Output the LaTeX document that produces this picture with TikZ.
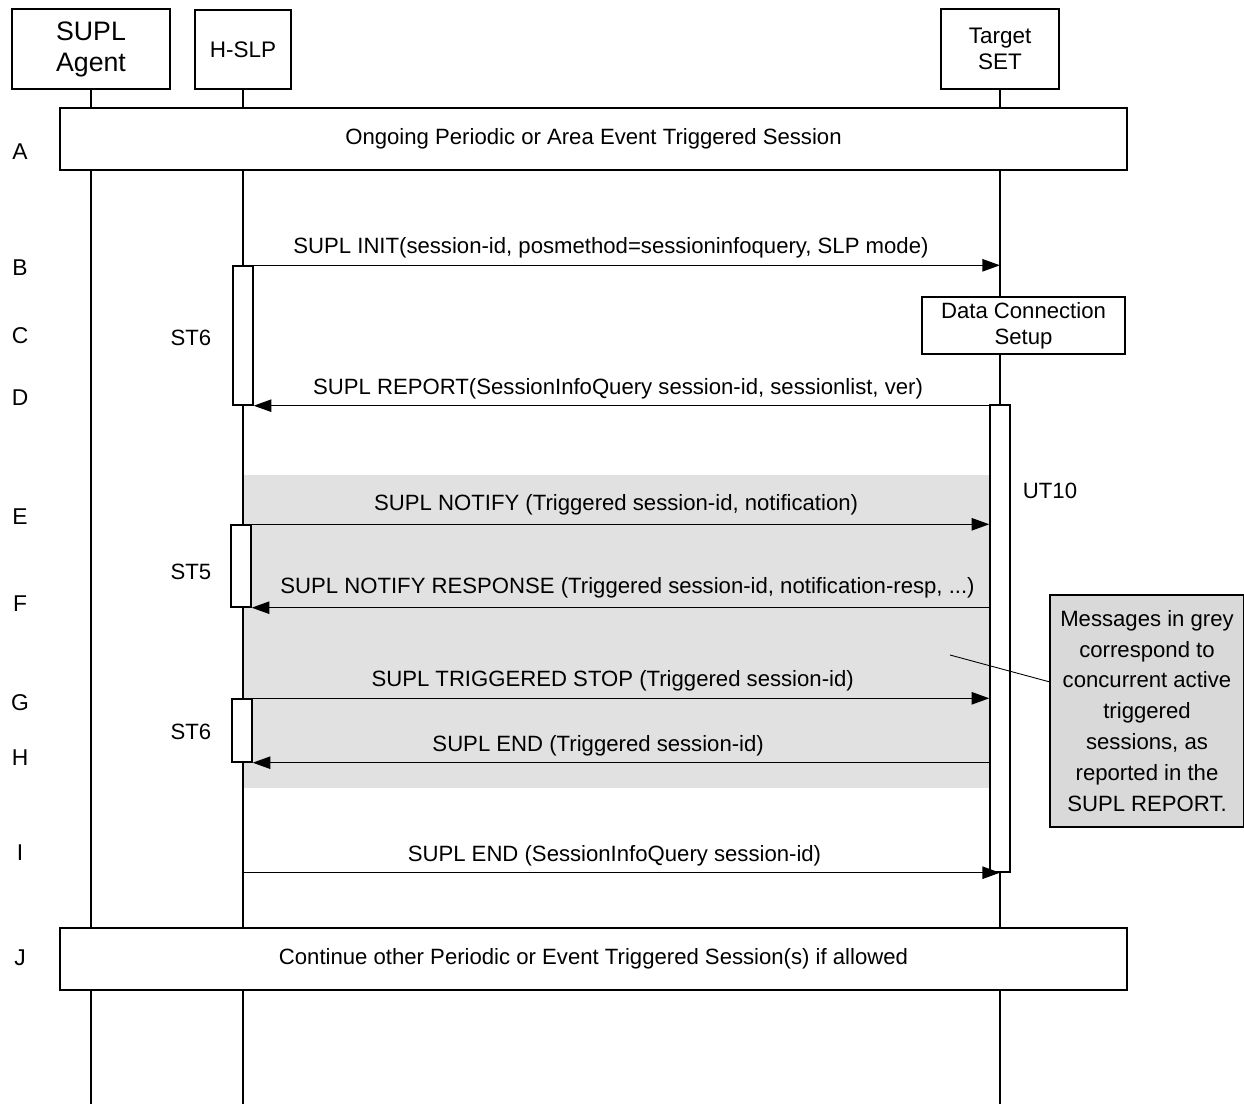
\documentclass[tikz,border=0pt]{standalone}
\usepackage{fontspec}
\setmainfont{Liberation Sans}
\usetikzlibrary{arrows.meta, calc, fit}

\definecolor{bandgrey}{HTML}{E1E1E1}
\definecolor{notegrey}{HTML}{D9D9D9}

\tikzset{
  head/.style={draw, fill=white, inner sep=0pt},
  box/.style={draw, fill=white, inner sep=0pt},
  inside/.style={inner sep=0pt, align=center, font=\fontsize{12.6}{14.7}\selectfont},
  act/.style={draw, fill=white, inner sep=0pt},
  msg/.style={->},
  lbl/.style={anchor=base, inner sep=0pt, yshift=6.5pt, font=\fontsize{12.6}{14.7}\selectfont},
  side/.style={inner sep=0pt, font=\fontsize{12.6}{14.7}\selectfont},
  rowlab/.style={inner sep=0pt, font=\fontsize{13}{15}\selectfont},
}

\begin{document}
\begin{tikzpicture}[x=0.02cm, y=-0.02cm, line width=0.8pt, >={Triangle[length=10pt, width=7pt]}]
        % page frame of the reference
        \useasboundingbox (0,0) rectangle (1244,1104);
        \coordinate (bottom) at (0,1104);

        % grey band for the concurrent triggered sessions
        \fill[bandgrey] (242,475) rectangle (990,788);

        % entities
        \node[head, fit={(12,9) (170,89)},
            label={[inside, font=\fontsize{15.2}{17.6}\selectfont]center:SUPL\\Agent}] (agent) {};
        \node[head, fit={(195,10) (291,89)},
            label={[inside, font=\fontsize{12.8}{14.4}\selectfont]center:H-SLP}] (hslp) {};
        \node[head, fit={(941,9) (1059,89)},
            label={[inside, font=\fontsize{12.8}{14.4}\selectfont]center:Target\\SET}] (set) {};

        % lifelines
        \draw (agent.south) -- (agent.south |- bottom);
        \draw (hslp.south) -- (hslp.south |- bottom);
        \draw (set.south) -- (set.south |- bottom);

        % step letters
        \foreach \r/\y in {A/152, B/268, C/336, D/398, E/517, F/604, G/703, H/758, I/853, J/958}
            \node[rowlab] (row\r) at (20,\y) {\r};

        % ongoing and continued sessions
        \node[box, fit={(60,108) (1127,170)},
            label={[inside]center:Ongoing Periodic or Area Event Triggered Session}] (ongoing) {};
        \node[box, fit={(60,928) (1127,990)},
            label={[inside]center:Continue other Periodic or Event Triggered Session(s) if allowed}] (continue) {};

        % timers
        \node[act, fit={(233,266) (253,405)}] (st6a) {};
        \node[act, fit={(231,525) (251,607)}] (st5) {};
        \node[act, fit={(232,699) (252,762)}] (st6b) {};
        \node[act, fit={(990,405) (1010,872)}] (ut10) {};
        \node[side] (st6alab) at (191,338) {ST6};
        \node[side] (st5lab) at (191,572) {ST5};
        \node[side] (st6blab) at (191,732) {ST6};
        \node[side] (ut10lab) at (1050,491) {UT10};

        % data connection on the SET side
        \node[box, fit={(922,297) (1125,354)},
            label={[inside]center:Data Connection\\Setup}] (dcs) {};

        % session info query
        \draw[msg] (hslp.south |- st6a.north) -- (set.south |- st6a.north)
            node[lbl, midway, xshift=-6pt] {SUPL INIT(session-id, posmethod=sessioninfoquery, SLP mode)};
        \draw[msg] (set.south |- st6a.south) -- (st6a.south east)
            node[lbl, midway, xshift=-5pt] {SUPL REPORT(SessionInfoQuery session-id, sessionlist, ver)};

        % messages of the concurrent sessions
        \draw[msg] (hslp.south |- st5.north) -- (ut10.west |- st5.north)
            node[lbl, midway, yshift=1.5pt] {SUPL NOTIFY (Triggered session-id, notification)};
        \draw[msg] (ut10.west |- st5.south) -- (st5.south east)
            node[lbl, midway, xshift=4pt, yshift=1.5pt] {SUPL NOTIFY RESPONSE (Triggered session-id, notification-resp, ...)};
        \draw[msg] (hslp.south |- st6b.north) -- (ut10.west |- st6b.north)
            node[lbl, midway, xshift=-2pt] {SUPL TRIGGERED STOP (Triggered session-id)};
        \draw[msg] (ut10.west |- st6b.south) -- (st6b.south east)
            node[lbl, midway, xshift=-13pt] {SUPL END (Triggered session-id)};

        % closing the query
        \draw[msg] (hslp.south |- ut10.south) -- (ut10.south)
            node[lbl, midway, xshift=-4pt] {SUPL END (SessionInfoQuery session-id)};

        % note on the grey messages
        \node[box, fill=notegrey, fit={(1050,595) (1244,827)},
            label={[inside, font=\fontsize{12.6}{17.6}\selectfont]center:Messages in grey\\correspond to\\concurrent active\\triggered\\sessions, as\\reported in the\\SUPL REPORT.}] (note) {};
        \coordinate (ptr) at (950,655);
        \draw[line width=0.5pt] (ptr) -- ($(note.north west)!0.375!(note.south west)$);

    \end{tikzpicture}
\end{document}
